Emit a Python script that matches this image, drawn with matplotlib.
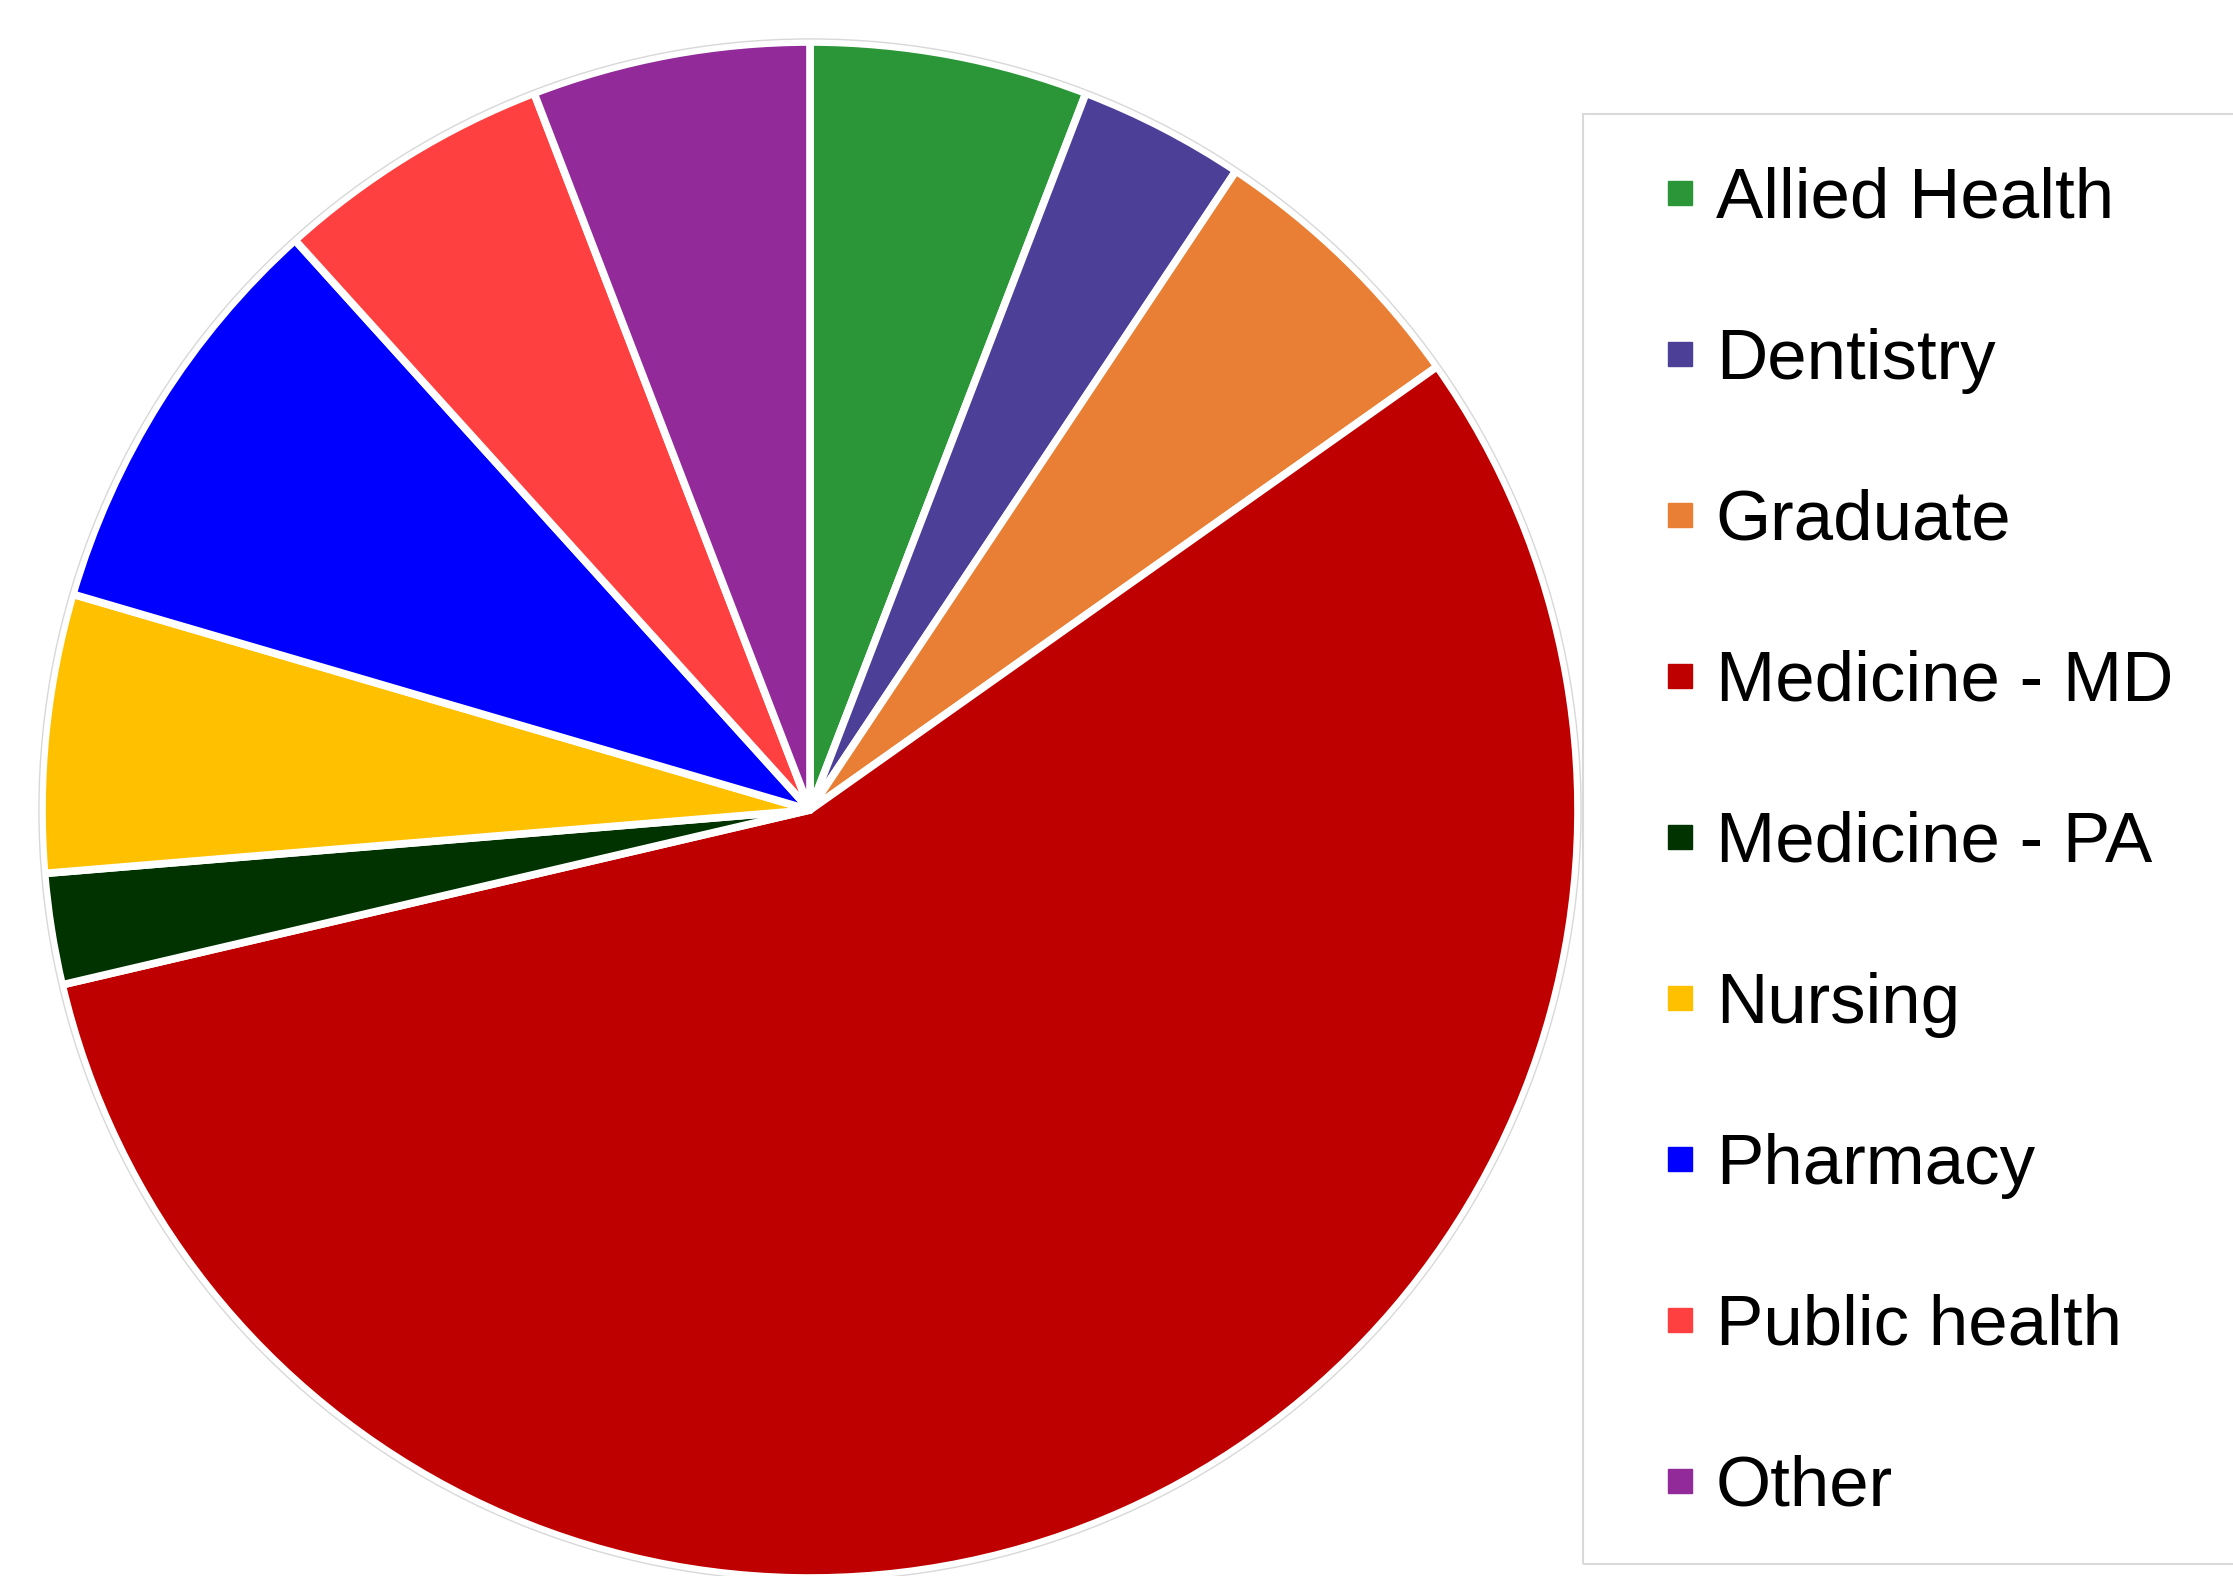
import matplotlib
matplotlib.use("Agg")
import matplotlib.pyplot as plt
from matplotlib.lines import Line2D
from matplotlib.patches import Rectangle, Circle

programs = ["Allied Health", "Dentistry", "Graduate", "Medicine - MD", "Medicine - PA",
            "Nursing", "Pharmacy", "Public health", "Other"]
counts = [10, 6, 10, 96, 4, 10, 15, 10, 10]
colors = ["#2a9637", "#4b3f98", "#e87f34", "#bf0000", "#003300",
          "#ffc000", "#0000ff", "#ff4040", "#922a9a"]

plt.rcParams['font.family'] = ['Liberation Sans', 'DejaVu Sans']

W, H = 2233, 1576
fig = plt.figure(figsize=(W / 100, H / 100), dpi=100)

# pie placed in pixel coords: centre (810, 810), radius 768
cx, cy, r = 810, 810, 768
ax = fig.add_axes([(cx - r) / W, (H - cy - r) / H, 2 * r / W, 2 * r / H])
ax.pie(counts, colors=colors, startangle=90, counterclock=False, radius=1,
       wedgeprops=dict(edgecolor="white", linewidth=5.5, joinstyle="round"))
ax.add_patch(Circle((0, 0), 1.004, fill=False, edgecolor="#d8d8d8", linewidth=1, clip_on=False))
ax.set_xlim(-1, 1)
ax.set_ylim(-1, 1)
ax.set_aspect("equal")
ax.axis("off")

# legend frame (runs off the right edge)
fig.patches.append(Rectangle((1583 / W, 1 - 1564 / H), 800 / W, (1564 - 114) / H,
                             transform=fig.transFigure, fill=False,
                             edgecolor="#d9d9d9", linewidth=1.5))

handles = [Line2D([], [], marker="s", linestyle="", color=c, markersize=17) for c in colors]
fig.legend(handles, programs, loc="upper left",
           bbox_to_anchor=(1662 / W, 1 - 167 / H),
           frameon=False, fontsize=51, borderpad=0, borderaxespad=0,
           handlelength=0.51, handletextpad=0.25, labelspacing=1.34)

fig.savefig("out.png", dpi=100)
